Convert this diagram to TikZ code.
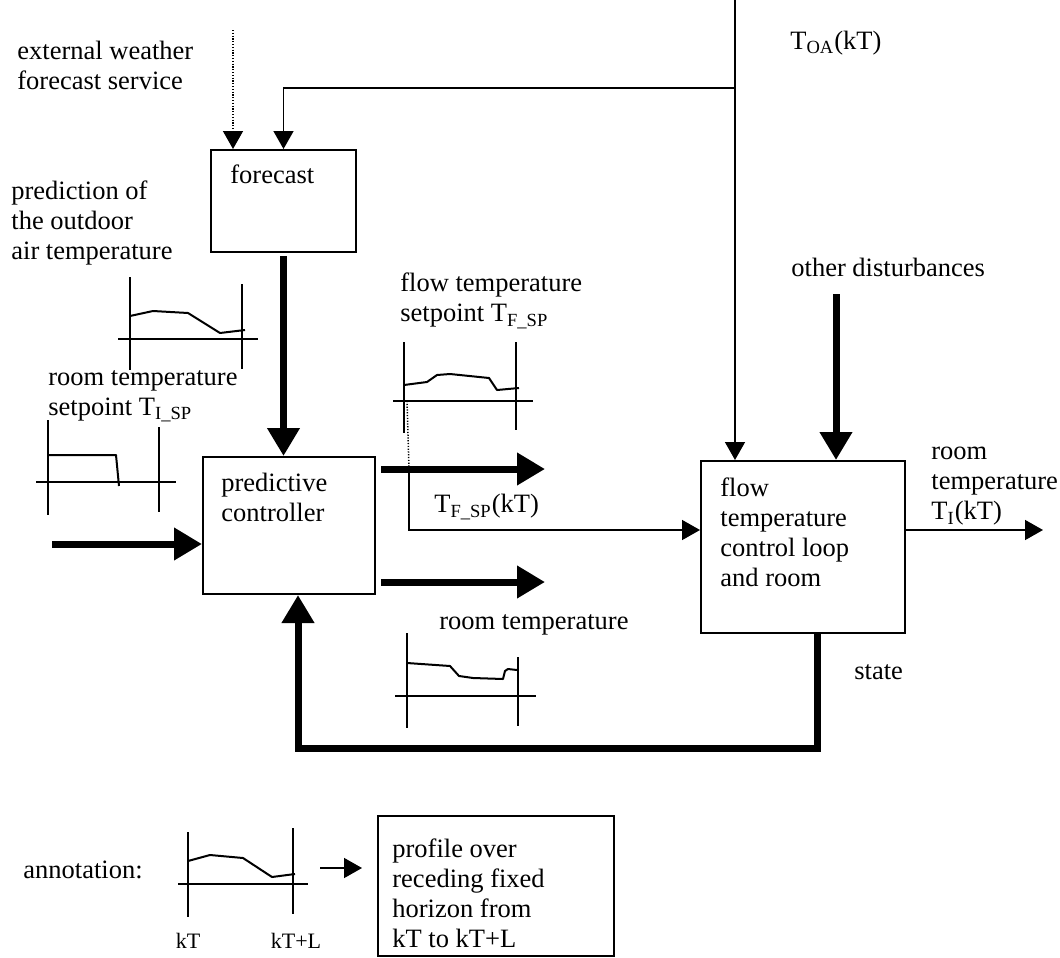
\documentclass[tikz,border=0pt]{standalone}
\usepackage{fontspec}
\setmainfont{Liberation Serif}
\usepackage{tikz}
\usetikzlibrary{arrows.meta}
\usetikzlibrary{positioning}
\usetikzlibrary{fit}
\usetikzlibrary{calc}

\tikzset{
  txt/.style={inner sep=0pt, align=left, font=\fontsize{13.25}{15}\selectfont},
  ticklbl/.style={inner sep=0pt, font=\fontsize{11}{13}\selectfont},
  block/.style={draw, line width=1pt, inner sep=0pt},
  signal/.style={line width=0.75pt, -{Triangle[length=9pt,width=10pt]}},
  bigsignal/.style={line width=3.5pt, -{Triangle[length=14pt,width=15.5pt]}},
  axisline/.style={line width=0.8pt},
  trace/.style={line width=1pt, line join=round},
}

\begin{document}
\begin{tikzpicture}[x=0.5pt,y=-0.5pt]
  \useasboundingbox (0,0) rectangle (1060,958);

  % blocks
  \node[block, fit={(211,150) (356,252)}] (fc) {};
  \node[block, fit={(203,457) (375,594)}] (pred) {};
  \node[block, fit={(701,461) (905,633)}] (flow) {};
  \node[block, fit={(378,816) (614,956)}] (ann) {};

  \node[txt, anchor=west] (fctxt) at ($(fc.north west)+(20,25)$) {forecast};
  \node[txt, anchor=west] (predtxt) at ($(pred.north west)+(19,41)$) {predictive\\controller};
  \node[txt, anchor=west] (flowtxt) at ($(flow.north west)+(20,72)$) {flow\\temperature\\control loop\\and room};
  \node[txt, anchor=west] (anntxt) at ($(ann.north west)+(15,78)$) {profile over\\receding fixed\\horizon from\\kT to kT+L};

  % labels
  \node[txt, anchor=west] (extlbl) at (17,65) {external weather\\forecast service};
  \node[txt, anchor=west] (oalbl) at (11,222.5) {prediction of\\the outdoor\\air temperature};
  \node[txt, anchor=west] (isplbl) at (48,396) {room temperature\\setpoint T\textsubscript{I\_SP}};
  \node[txt, anchor=west] (fsplbl) at (400,301) {flow temperature\\setpoint T\textsubscript{F\_SP}};
  \node[txt, anchor=west] (toalbl) at (790,43) {T\textsubscript{OA}(kT)};
  \node[txt, anchor=west] (distlbl) at (791,267) {other disturbances};
  \node[txt, anchor=west] (tfsplbl) at (434,507) {T\textsubscript{F\_SP}(kT)};
  \node[txt, anchor=west] (outlbl) at (931,486.5) {room\\temperature\\T\textsubscript{I}(kT)};
  \node[txt, anchor=west] (statelbl) at (854,672) {state};
  \node[txt, anchor=west] (rtlbl) at (439,625) {room temperature};
  \node[txt, anchor=west] (annlbl) at (23,870) {annotation:};
  \node[ticklbl] (kt) at (188,941) {kT};
  \node[ticklbl] (ktl) at (296,941) {kT+L};

  % signals
  \coordinate (toa) at (735,0);
  \coordinate (split) at (735,88);
  \coordinate (ext) at (233,30);
  \draw[signal] (toa) -- (toa |- flow.north);
  \draw[signal] (split) -| (fc.north);
  \draw[signal, dash pattern=on 0.6pt off 0.8pt] (ext) -- (ext |- fc.north);
  \draw[bigsignal] ([yshift=-1.5pt]fc.south) -- (fc.south |- pred.north);

  \coordinate (spin) at (52,544);
  \draw[bigsignal] (spin) -- (spin -| pred.west);
  \coordinate (out1) at (545,469);
  \coordinate (out2) at (545,582);
  \draw[bigsignal, shorten <=2.5pt] (pred.east |- out1) -- (out1);
  \draw[bigsignal, shorten <=2.5pt] (pred.east |- out2) -- (out2);

  \coordinate (tap) at (409,469);
  \coordinate (tapc) at (409,530);
  \draw[signal] (tap) -- (tapc) -- (tapc -| flow.west);
  \coordinate (tiout) at (1043,530);
  \draw[signal] (tapc -| flow.east) -- (tiout);

  \coordinate (dist) at (836,294);
  \draw[bigsignal] (dist) -- (dist |- flow.north);

  % feedback of the state
  \draw[bigsignal] ($(flow.south)+(14,0)$) -- ++(0,114) -| ($(pred.south)+(9,0)$);

  \coordinate (annarr) at (320,868);
  \draw[signal, shorten >=7.5pt] (annarr) -- (annarr -| ann.west);

  % profiles
  \draw[axisline] (130,277) -- (130,370) (242,284) -- (242,369) (118,339) -- (258,339);
  \draw[trace] (130,316) -- (153,311) -- (188,313) -- (220,333) -- (245,330);

  \draw[axisline] (48,420) -- (48,515) (159,427) -- (159,512) (36,482) -- (176,482);
  \draw[trace] (48,455) -- (116,455) -- (119,486);

  \draw[axisline] (404,342) -- (404,433) (516,342) -- (516,430) (393,401) -- (533,401);
  \draw[trace] (404,385) -- (427,382) -- (437,375) -- (450,374) -- (489,378) -- (497,390) -- (519,388);
  \draw[line width=0.75pt, dash pattern=on 0.6pt off 0.8pt] (407,401) -- (tap);

  \draw[axisline] (407,633) -- (407,728) (518,657) -- (518,726) (395,696) -- (536,696);
  \draw[trace] (407,663) -- (450,666) -- (459,676) -- (473,678) -- (503,679) -- (505,671) -- (508,669) -- (517,670);

  \draw[axisline] (188,832) -- (188,917) (293,828) -- (293,914) (178,884) -- (308,884);
  \draw[trace] (188,861) -- (210,855) -- (243,858) -- (272,877) -- (295,874);
\end{tikzpicture}
\end{document}
